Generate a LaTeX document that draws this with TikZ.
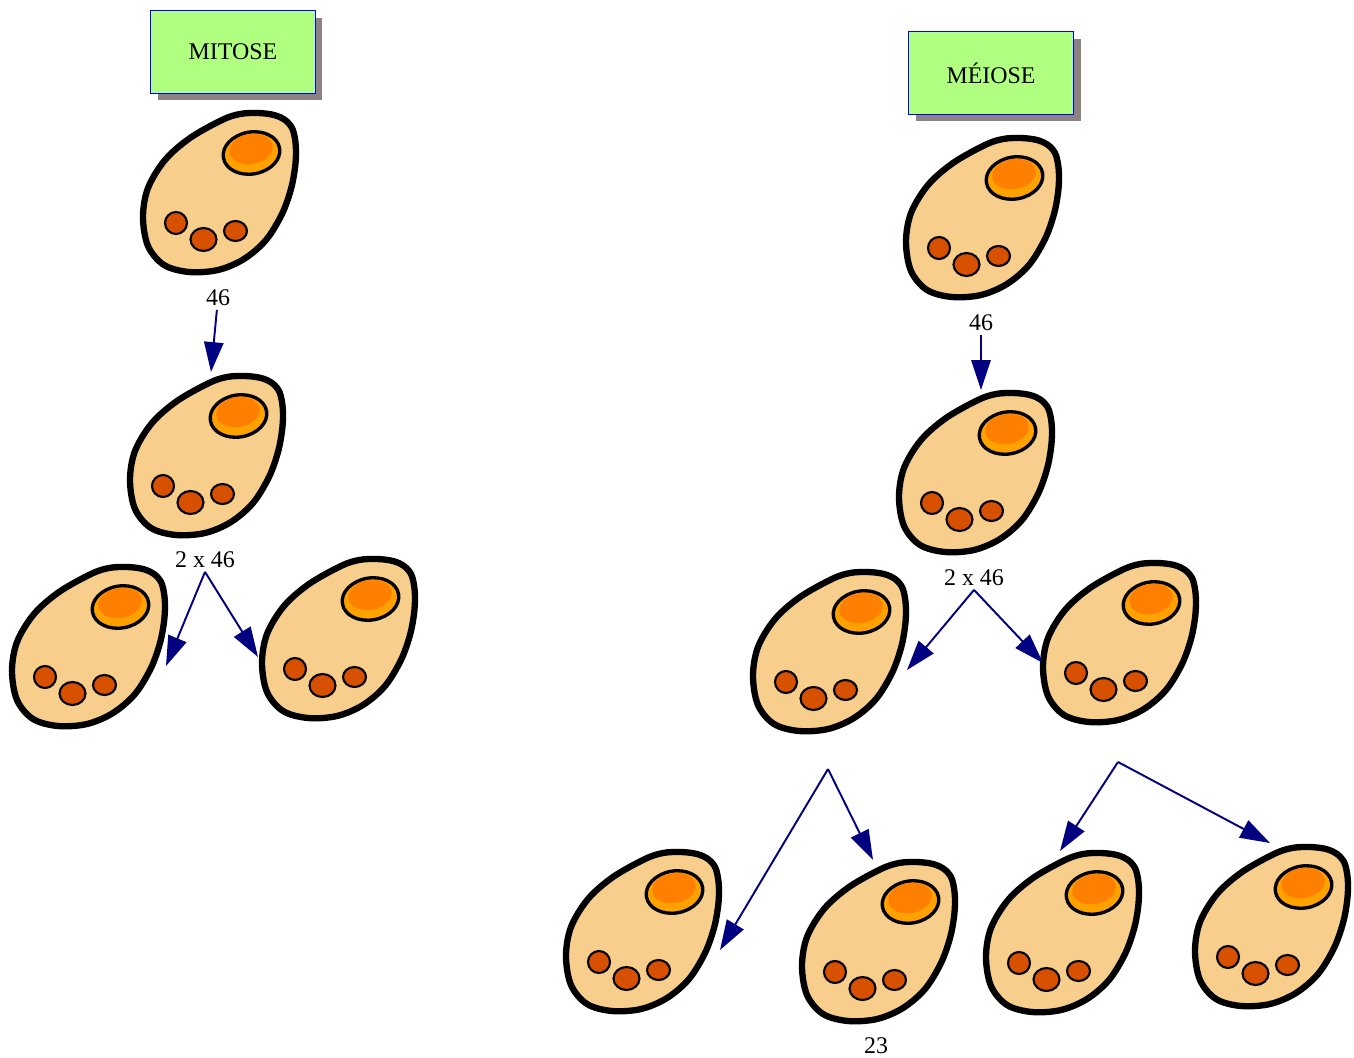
\documentclass[tikz,border=0pt]{standalone}
\usepackage{fontspec}
\setmainfont{Liberation Serif}
\usetikzlibrary{arrows.meta,shadows}

\definecolor{cellbody}{RGB}{247,206,140}
\definecolor{nucring}{RGB}{255,162,0}
\definecolor{nuccore}{RGB}{255,128,0}
\definecolor{granule}{RGB}{214,80,0}
\definecolor{arrowblue}{RGB}{0,0,128}
\definecolor{boxgreen}{RGB}{176,255,128}
\definecolor{boxshadow}{RGB}{140,130,130}

\tikzset{
  cell/.pic={
    \draw[line width=3.6pt,fill=cellbody] plot[smooth cycle,tension=0.55]
      coordinates {(40,-79) (56,-77) (67,-72) (74,-64) (77,-53) (78,-40) (77,-24) (73,-3) (64,22)
        (48,48) (26,67) (0,78) (-29,80) (-54,73) (-70,54) (-75,25) (-70,-4) (-53,-32) (-28,-54) (4,-72) (22,-78)};
    \draw[line width=1.9pt,fill=nucring,rotate around={10:(33.5,-39)}] (33.5,-39) ellipse [x radius=28.5,y radius=21];
    \fill[nuccore,rotate around={10:(33,-43)}] (33,-43) ellipse [x radius=22,y radius=15];
    \draw[line width=1.2pt,fill=granule] (-42,31) ellipse [x radius=11,y radius=11];
    \draw[line width=1.2pt,fill=granule] (-14.5,47.5) ellipse [x radius=13,y radius=11.5];
    \draw[line width=1.2pt,fill=granule] (17.5,39) ellipse [x radius=11.5,y radius=10];
  },
  title/.style={draw=blue,line width=1.1pt,fill=boxgreen,minimum width=3.3cm,minimum height=1.66cm,
    drop shadow={shadow xshift=0.14cm,shadow yshift=-0.14cm,fill=boxshadow,opacity=1},
    font=\fontsize{13.6}{16}\selectfont},
  count/.style={inner sep=2pt,font=\fontsize{13.6}{16}\selectfont},
  arr/.style={arrowblue,line width=1.1pt,-{Triangle[length=17pt,width=11pt]}}
}

\begin{document}
\begin{tikzpicture}[x=0.02cm,y=-0.02cm]
  \useasboundingbox (0,0) rectangle (1354,1057);

  % mitose
  \node[title] (mitose) at (233,52) {MITOSE};
  \pic at (218,192) {cell};
  \pic at (205,455) {cell};
  \pic at (87,646) {cell};
  \pic at (337,638) {cell};
  \node[count] (m46) at (218,298) {46};
  \node[count] (m2x46) at (205,560) {2 x 46};
  \coordinate (m2) at (211,372);
  \coordinate (m3) at (166,666);
  \coordinate (m4) at (258,657);
  \draw[arr] (m46) -- (m2);
  \draw[arr] (m2x46.south) -- (m3);
  \draw[arr] (m2x46.south) -- (m4);

  % meiose
  \node[title] (meiose) at (991,73) {MÉIOSE};
  \pic at (981,217) {cell};
  \pic at (974,472) {cell};
  \pic at (828,651) {cell};
  \pic at (1118,642) {cell};
  \pic at (641,931) {cell};
  \pic at (877,941) {cell};
  \pic at (1061,932) {cell};
  \pic at (1270,926) {cell};
  \node[count] (e46) at (981,323) {46};
  \node[count] (e2x46) at (974,578) {2 x 46};
  \node[count] (e23) at (876,1046) {23};
  \coordinate (e2) at (981,390);
  \coordinate (e3) at (907,670);
  \coordinate (e4) at (1043,663);
  \coordinate (ea) at (828,769);
  \coordinate (eb) at (1118,762);
  \coordinate (e5) at (720,950);
  \coordinate (e6) at (873,860);
  \coordinate (e7) at (1060,851);
  \coordinate (e8) at (1270,843);
  \draw[arr] (e46) -- (e2);
  \draw[arr] (e2x46.south) -- (e3);
  \draw[arr] (e2x46.south) -- (e4);
  \draw[arr] (ea) -- (e5);
  \draw[arr] (ea) -- (e6);
  \draw[arr] (eb) -- (e7);
  \draw[arr] (eb) -- (e8);
\end{tikzpicture}
\end{document}
